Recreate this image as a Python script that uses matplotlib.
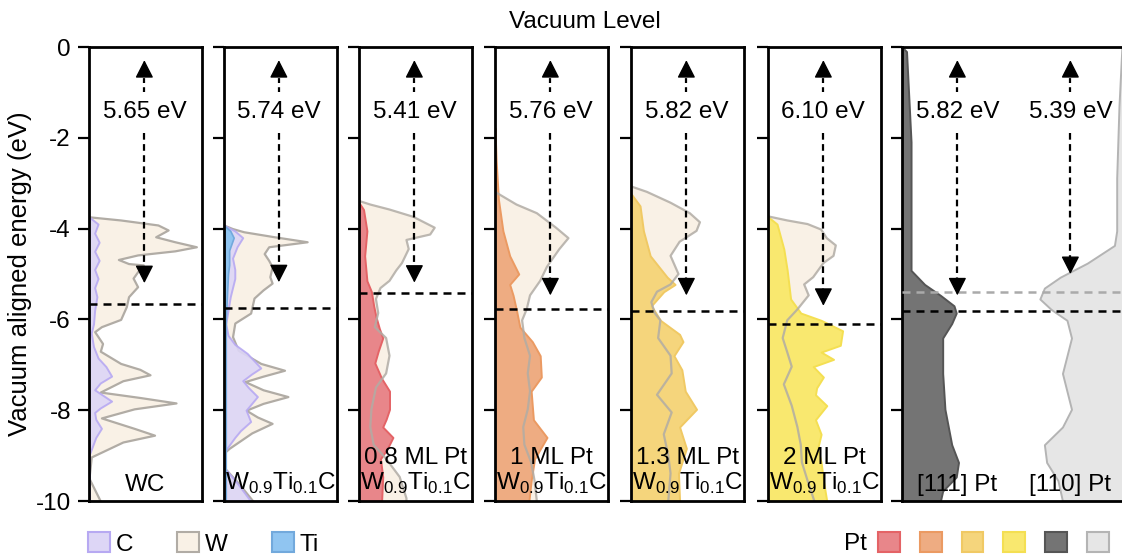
import matplotlib.pyplot as plt
from matplotlib.patches import Patch

plt.rcParams['font.family'] = ['Liberation Sans', 'DejaVu Sans']
plt.rcParams['mathtext.fontset'] = 'custom'
plt.rcParams['mathtext.rm'] = 'Liberation Sans'
plt.rcParams['axes.unicode_minus'] = False

# work functions (eV) per panel / per surface
work_fn = [5.65, 5.74, 5.41, 5.76, 5.82, 6.10, 5.82, 5.39]
arrow_end = [-5.2, -5.18, -5.19, -5.47, -5.47, -5.7, -5.47, -5.0]

# --- WC
wc_w_E = [-3.74, -3.81, -3.92, -4.03, -4.18, -4.29, -4.40, -4.49, -4.58, -4.68, -4.77, -4.80,
          -4.95, -5.09, -5.28, -5.50, -5.72, -6.00, -6.16, -6.27, -6.53, -6.70, -6.97, -7.10,
          -7.22, -7.35, -7.60, -7.72, -7.84, -7.97, -8.17, -8.40, -8.55, -8.70, -9.03, -9.50,
          -9.75, -10.0]
wc_w_x = [0.0, 0.28, 0.61, 0.70, 0.59, 0.76, 0.95, 0.76, 0.43, 0.26, 0.35, 0.48,
          0.43, 0.39, 0.43, 0.35, 0.33, 0.28, 0.11, 0.05, 0.12, 0.10, 0.28, 0.45,
          0.54, 0.30, 0.10, 0.45, 0.77, 0.40, 0.11, 0.40, 0.58, 0.30, 0.02, 0.0,
          0.05, 0.10]
wc_c_E = [-3.74, -3.9, -4.1, -4.3, -4.5, -4.7, -4.9, -5.1, -5.3, -5.5, -5.8, -6.1, -6.3, -6.6,
          -6.85, -7.04, -7.25, -7.4, -7.55, -7.8, -7.95, -8.05, -8.2, -8.4, -8.6, -8.8, -9.0,
          -10.0]
wc_c_x = [0.0, 0.08, 0.05, 0.09, 0.05, 0.09, 0.05, 0.08, 0.05, 0.07, 0.05, 0.04, 0.02, 0.04,
          0.08, 0.15, 0.20, 0.10, 0.05, 0.20, 0.10, 0.05, 0.06, 0.11, 0.06, 0.03, 0.0,
          0.0]

# --- W0.9Ti0.1C
wt_w_E = [-3.92, -4.0, -4.07, -4.18, -4.29, -4.40, -4.55, -4.70, -4.84, -5.06, -5.20, -5.35,
          -5.53, -5.86, -6.08, -6.38, -6.68, -6.97, -7.12, -7.25, -7.37, -7.55, -7.70, -7.85,
          -8.0, -8.15, -8.29, -8.5, -8.84, -8.95, -9.25, -9.6, -10.0]
wt_w_x = [0.0, 0.08, 0.18, 0.45, 0.74, 0.40, 0.36, 0.40, 0.43, 0.41, 0.43, 0.35,
          0.27, 0.24, 0.10, 0.08, 0.13, 0.33, 0.54, 0.35, 0.19, 0.35, 0.57, 0.35,
          0.20, 0.30, 0.43, 0.25, 0.05, 0.0, 0.0, 0.13, 0.26]
wt_c_E = [-3.92, -4.05, -4.2, -4.4, -4.65, -4.9, -5.1, -5.3, -5.5, -5.8, -6.1, -6.35, -6.55,
          -6.75, -7.07, -7.2, -7.35, -7.5, -7.7, -8.0, -8.25, -8.45, -8.6, -8.84, -8.95, -9.25,
          -9.6, -10.0]
wt_c_x = [0.0, 0.10, 0.17, 0.12, 0.08, 0.10, 0.10, 0.08, 0.06, 0.04, 0.02, 0.04, 0.10,
          0.21, 0.33, 0.25, 0.17, 0.22, 0.30, 0.20, 0.24, 0.15, 0.10, 0.03, 0.0, 0.0,
          0.12, 0.24]
wt_ti_E = [-3.92, -4.05, -4.2, -4.48, -4.8, -5.0, -5.5, -6.0, -7.0, -8.0, -9.0, -10.0]
wt_ti_x = [0.0, 0.06, 0.09, 0.05, 0.05, 0.04, 0.03, 0.02, 0.02, 0.02, 0.02, 0.02]

# --- Pt overlayers on W0.9Ti0.1C: (Pt DOS, W DOS)
pt08_E = [-3.43, -3.58, -4.05, -4.6, -5.15, -5.39, -5.7, -5.94, -6.2, -6.41, -6.7, -6.96,
          -7.3, -7.58, -7.98, -8.2, -8.37, -8.6, -8.85, -9.07, -9.47, -10.0]
pt08_x = [0.0, 0.04, 0.07, 0.05, 0.07, 0.11, 0.13, 0.15, 0.18, 0.21, 0.17, 0.14,
          0.20, 0.27, 0.27, 0.24, 0.21, 0.30, 0.25, 0.19, 0.21, 0.20]
w08_E = [-3.39, -3.47, -3.58, -3.74, -3.98, -4.13, -4.25, -4.45, -4.76, -4.92, -5.15, -5.31,
         -5.55, -5.86, -6.17, -6.41, -6.8, -7.19, -7.5, -7.98, -8.37, -8.76, -9.07, -9.47,
         -9.94, -10.0]
w08_x = [0.0, 0.10, 0.27, 0.48, 0.67, 0.63, 0.42, 0.44, 0.38, 0.33, 0.27, 0.19,
         0.15, 0.17, 0.14, 0.24, 0.27, 0.24, 0.15, 0.11, 0.10, 0.13, 0.24, 0.36,
         0.42, 0.42]

pt10_E = [-1.78, -2.5, -3.35, -4.05, -4.6, -5.0, -5.23, -5.47, -5.8, -6.17, -6.49, -6.8,
          -7.27, -7.58, -7.9, -8.21, -8.6, -9.07, -9.55, -10.0]
pt10_x = [0.0, 0.01, 0.03, 0.07, 0.13, 0.21, 0.13, 0.16, 0.19, 0.22, 0.33, 0.40,
          0.41, 0.32, 0.33, 0.34, 0.46, 0.35, 0.32, 0.30]
w10_E = [-3.19, -3.47, -3.66, -3.98, -4.21, -4.45, -4.84, -5.15, -5.47, -5.78, -6.02, -6.41,
         -6.8, -7.19, -7.58, -7.98, -8.37, -8.76, -9.15, -9.55, -10.0]
w10_x = [0.0, 0.19, 0.37, 0.54, 0.65, 0.57, 0.46, 0.40, 0.31, 0.28, 0.24, 0.26,
         0.31, 0.29, 0.31, 0.29, 0.25, 0.26, 0.32, 0.35, 0.37]

pt13_E = [-3.23, -3.5, -4.05, -4.6, -5.07, -5.23, -5.39, -5.7, -6.02, -6.33, -6.49, -6.8,
          -7.11, -7.58, -7.98, -8.37, -8.84, -9.39, -10.0]
pt13_x = [0.0, 0.08, 0.11, 0.17, 0.32, 0.39, 0.29, 0.18, 0.26, 0.43, 0.46, 0.38,
          0.45, 0.48, 0.58, 0.43, 0.49, 0.42, 0.43]
w13_E = [-3.07, -3.19, -3.43, -3.66, -3.86, -4.05, -4.29, -4.6, -5.0, -5.23, -5.39, -5.62,
         -5.86, -6.02, -6.41, -6.8, -7.19, -7.66, -8.05, -8.53, -9.0, -9.39, -10.0]
w13_x = [0.0, 0.14, 0.35, 0.52, 0.61, 0.58, 0.43, 0.35, 0.42, 0.35, 0.23, 0.18,
         0.21, 0.26, 0.24, 0.35, 0.36, 0.23, 0.36, 0.29, 0.33, 0.35, 0.33]

pt20_E = [-3.74, -3.9, -4.45, -4.92, -5.55, -5.86, -6.02, -6.25, -6.57, -6.72, -6.88, -7.04,
          -7.27, -7.51, -7.66, -7.9, -8.21, -8.53, -8.84, -9.15, -9.55, -10.0]
pt20_x = [0.0, 0.08, 0.14, 0.17, 0.20, 0.29, 0.47, 0.66, 0.64, 0.47, 0.58, 0.40,
          0.49, 0.43, 0.42, 0.52, 0.42, 0.47, 0.44, 0.47, 0.49, 0.52]
w20_E = [-3.73, -3.82, -3.9, -4.02, -4.21, -4.37, -4.6, -4.76, -5.07, -5.23, -5.47, -5.78,
         -6.02, -6.41, -6.72, -7.04, -7.43, -7.9, -8.37, -8.76, -9.15, -9.55, -10.0]
w20_x = [0.0, 0.17, 0.35, 0.47, 0.52, 0.60, 0.58, 0.49, 0.40, 0.32, 0.36, 0.26,
         0.17, 0.13, 0.17, 0.21, 0.14, 0.21, 0.26, 0.29, 0.30, 0.35, 0.41]

# --- bulk Pt surfaces ([110] is drawn from the right edge)
pt111_E = [0.0, -0.1, -2.09, -4.45, -4.92, -5.23, -5.47, -5.7, -5.86, -6.09, -6.41, -7.19,
           -7.98, -8.76, -9.15, -9.47, -9.78, -10.0]
pt111_x = [0.0, 0.02, 0.04, 0.04, 0.04, 0.10, 0.17, 0.23, 0.24, 0.22, 0.18, 0.18,
           0.19, 0.22, 0.25, 0.24, 0.18, 0.17]
pt110_E = [0.0, -1.31, -2.88, -4.05, -4.37, -4.76, -5.07, -5.31, -5.55, -5.78, -6.02, -6.41,
           -7.19, -7.98, -8.37, -8.76, -9.15, -9.55, -10.0]
pt110_x = [0.027, 0.04, 0.05, 0.05, 0.06, 0.18, 0.30, 0.37, 0.39, 0.34, 0.27, 0.25,
           0.29, 0.25, 0.29, 0.37, 0.36, 0.31, 0.29]

sub = r'W$_\mathregular{0.9}$Ti$_\mathregular{0.1}$C'
panel_labels = ['WC', sub, '0.8 ML Pt\n' + sub, '1 ML Pt\n' + sub,
                '1.3 ML Pt\n' + sub, '2 ML Pt\n' + sub]

C_FC, C_EC = '#ddd6f6', '#b7a9f2'
W_FC, W_EC = '#f9f1e6', '#b1aca5'
TI_FC, TI_EC = '#90c5f1', '#72a9dc'
PT_FC = ['#e8868a', '#eeac82', '#f5d57c', '#f9e86f', '#747474', '#e6e6e6']
PT_EC = ['#e46366', '#eb9a62', '#f0c964', '#f4df52', '#555555', '#b4b4b4']

FW, FH = 1122, 556
TOP, BOT = 47, 501
FS = 17.5

fig = plt.figure(figsize=(FW / 100, FH / 100), dpi=100)

lefts = [89, 223.5, 359, 495, 631, 768, 902]
widths = [113, 113, 113, 113, 113, 113, 226]
axes = []
for i, (l, w) in enumerate(zip(lefts, widths)):
    ax = fig.add_axes([l / FW, 1 - BOT / FH, w / FW, (BOT - TOP) / FH])
    ax.set_xlim(0, 1)
    ax.set_ylim(-10, 0)
    ax.set_xticks([])
    ax.set_yticks([0, -2, -4, -6, -8, -10])
    ax.tick_params(axis='y', direction='out', length=8, width=1.6, labelsize=FS, pad=5)
    if i > 0:
        ax.set_yticklabels([])
    for s in ax.spines.values():
        s.set_linewidth(2)
    axes.append(ax)

axes[0].set_yticklabels(['0', '-2', '-4', '-6', '-8', '-10'])

# WC
ax = axes[0]
ax.fill_betweenx(wc_w_E, 0, wc_w_x, fc=W_FC, ec=W_EC, lw=1.6)
ax.fill_betweenx(wc_c_E, 0, wc_c_x, fc=C_FC, ec=C_EC, lw=1.4, alpha=0.9)

# W0.9Ti0.1C
ax = axes[1]
ax.fill_betweenx(wt_w_E, 0, wt_w_x, fc=W_FC, ec=W_EC, lw=1.6)
ax.fill_betweenx(wt_c_E, 0, wt_c_x, fc=C_FC, ec=C_EC, lw=1.4, alpha=0.9)
ax.fill_betweenx(wt_ti_E, 0, wt_ti_x, fc=TI_FC, ec=TI_EC, lw=1.2)

# Pt overlayers
pt_sets = [(pt08_E, pt08_x, w08_E, w08_x), (pt10_E, pt10_x, w10_E, w10_x),
           (pt13_E, pt13_x, w13_E, w13_x), (pt20_E, pt20_x, w20_E, w20_x)]
for k, (pE, px, wE, wx) in enumerate(pt_sets):
    ax = axes[2 + k]
    ax.fill_betweenx(wE, 0, wx, fc=W_FC, ec='none')
    ax.fill_betweenx(pE, 0, px, fc=PT_FC[k], ec=PT_EC[k], lw=1.4)
    ax.plot(wx, wE, color=W_EC, lw=1.6, alpha=0.85)

# bulk Pt
ax = axes[6]
ax.fill_betweenx(pt111_E, 0, pt111_x, fc=PT_FC[4], ec=PT_EC[4], lw=1.4)
ax.fill_betweenx(pt110_E, [1 - v for v in pt110_x], 1, fc=PT_FC[5], ec=PT_EC[5], lw=1.4)

# Fermi levels, arrows and work-function labels
arrow_ax = [0, 1, 2, 3, 4, 5, 6, 6]
arrow_x = [0.49, 0.49, 0.49, 0.49, 0.49, 0.49, 0.245, 0.745]
head = dict(arrowstyle='-|>,head_length=0.55,head_width=0.28', color='k', lw=1.0,
            shrinkA=0, shrinkB=0, mutation_scale=20)
TIP, GAP_HI, GAP_LO, LBL = -0.29, -0.99, -1.89, -1.44
for k, wf in enumerate(work_fn):
    ax = axes[arrow_ax[k]]
    x = arrow_x[k]
    col = '#aaaaaa' if k == 7 else 'k'
    ax.axhline(-wf, color=col, ls=(0, (3.2, 2.4)), lw=1.8, zorder=4)
    # dashed shafts, broken around the label
    ax.plot([x, x], [TIP - 0.2, GAP_HI], color='k', lw=1.6, ls=(0, (2.2, 1.9)), zorder=5)
    ax.plot([x, x], [GAP_LO, arrow_end[k] + 0.2], color='k', lw=1.6, ls=(0, (3.0, 2.0)),
            zorder=5)
    # solid heads
    ax.annotate('', xy=(x, TIP), xytext=(x, TIP - 0.34), arrowprops=head, zorder=5)
    ax.annotate('', xy=(x, arrow_end[k]), xytext=(x, arrow_end[k] + 0.34),
                arrowprops=head, zorder=5)
    ax.text(x, LBL, '%.2f eV' % wf, ha='center', va='center', fontsize=FS, zorder=6)

# panel labels
for i, lab in enumerate(panel_labels):
    ax = axes[i]
    ax.text(0.5, 0.012, lab, transform=ax.transAxes, ha='center', va='bottom',
            fontsize=FS, linespacing=1.05, zorder=7)
axes[6].text(0.245, 0.012, '[111] Pt', transform=axes[6].transAxes, ha='center',
             va='bottom', fontsize=FS, zorder=7)
axes[6].text(0.745, 0.012, '[110] Pt', transform=axes[6].transAxes, ha='center',
             va='bottom', fontsize=FS, zorder=7)

fig.text(585 / FW, 1 - 22 / FH, 'Vacuum Level', ha='center', va='center', fontsize=FS)
fig.text(20 / FW, 1 - (TOP + BOT) / 2 / FH, 'Vacuum aligned energy (eV)', ha='center',
         va='center', rotation=90, fontsize=18.5)

# legends
h1 = [Patch(fc=C_FC, ec=C_EC, lw=1.5, label='C'),
      Patch(fc=W_FC, ec=W_EC, lw=1.5, label='W'),
      Patch(fc=TI_FC, ec=TI_EC, lw=1.5, label='Ti')]
fig.legend(handles=h1, loc='center left', bbox_to_anchor=(88 / FW, 1 - 544 / FH), ncol=3,
           frameon=False, fontsize=FS, handlelength=0.9, handleheight=0.9,
           handletextpad=0.25, columnspacing=1.8, borderpad=0, borderaxespad=0)
h2 = [Patch(fc=f, ec=e, lw=1.5, label='') for f, e in zip(PT_FC, PT_EC)]
fig.legend(handles=h2, loc='center left', bbox_to_anchor=(878 / FW, 1 - 544 / FH), ncol=6,
           frameon=False, fontsize=FS, handlelength=0.9, handleheight=0.9,
           handletextpad=0.0, columnspacing=0.82, borderpad=0, borderaxespad=0)
fig.text(855 / FW, 1 - 544 / FH, 'Pt', ha='center', va='center', fontsize=FS)

plt.savefig('out.png', dpi=100)
plt.close('all')
